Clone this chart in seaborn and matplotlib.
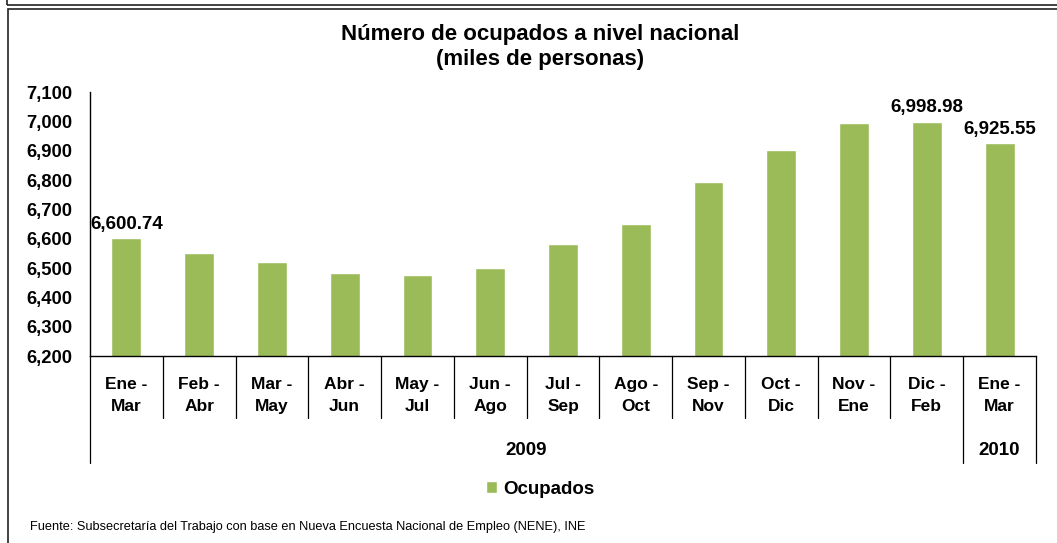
import seaborn as sns
import matplotlib.pyplot as plt
import pandas as pd
from matplotlib.patches import Rectangle
from matplotlib.ticker import FuncFormatter

# datos (miles de personas)
periodos = ["Ene -\nMar", "Feb -\nAbr", "Mar -\nMay", "Abr -\nJun", "May -\nJul",
            "Jun -\nAgo", "Jul -\nSep", "Ago -\nOct", "Sep -\nNov", "Oct -\nDic",
            "Nov -\nEne", "Dic -\nFeb", "Ene -\nMar"]
ocupados = [6600.74, 6550, 6521, 6484, 6475, 6500, 6582, 6650, 6793, 6903,
            6995, 6998.98, 6925.55]
anios = ["2009", "2010"]
n_2009 = 12
etiquetas_visibles = [0, 11, 12]

df = pd.DataFrame({"pos": range(len(ocupados)), "Ocupados": ocupados})

sns.set_style("white")
plt.rcParams["font.family"] = ["Liberation Sans", "DejaVu Sans"]
plt.rcParams["text.color"] = "black"
plt.rcParams["xtick.color"] = "black"
plt.rcParams["ytick.color"] = "black"

verde = "#9BBB59"
W, H = 1057, 543
fig = plt.figure(figsize=(W / 100, H / 100), dpi=100)

# marcos del fondo
fig.patches.append(Rectangle((7 / W, 1 - 5 / H), 2, 1, transform=fig.transFigure,
                             fill=False, edgecolor="#222222", linewidth=1.2))
fig.patches.append(Rectangle((8 / W, -1), 2, 2 - 9 / H, transform=fig.transFigure,
                             fill=False, edgecolor="#222222", linewidth=1.2))

ax = fig.add_axes([90 / W, 1 - 356 / H, (1036 - 90) / W, (356 - 92) / H])
sns.barplot(data=df, x="pos", y="Ocupados", color=verde, width=0.41,
            saturation=1, ax=ax, label="Ocupados")

ax.set_ylim(6200, 7100)
ax.set_yticks(range(6200, 7101, 100))
ax.yaxis.set_major_formatter(FuncFormatter(lambda v, p: f"{v:,.0f}"))
ax.set_xlim(-0.5, len(ocupados) - 0.5)
ax.set_xticks(range(len(periodos)))
ax.set_xticklabels(periodos)
ax.tick_params(axis="x", length=0, pad=15, labelsize=12.5)
ax.tick_params(axis="y", length=0, pad=12.5, labelsize=13.3)
for t in ax.get_xticklabels():
    t.set_fontweight("bold")
    t.set_linespacing(1.6)
for t in ax.get_yticklabels():
    t.set_fontweight("bold")
ax.set_xlabel("")
ax.set_ylabel("")

for s in ["top", "right"]:
    ax.spines[s].set_visible(False)
for s in ["left", "bottom"]:
    ax.spines[s].set_color("black")
    ax.spines[s].set_linewidth(1)

# etiquetas de datos
for i in etiquetas_visibles:
    ax.annotate(f"{ocupados[i]:,.2f}", (i, ocupados[i]), xytext=(0, 4),
                textcoords="offset points", ha="center", va="bottom",
                fontsize=13.5, fontweight="bold")

# eje de categorias en dos niveles
trans = ax.get_xaxis_transform()
for k in range(len(ocupados) + 1):
    x = k - 0.5
    largo = k in (0, n_2009, len(ocupados))
    y0 = -0.405 if largo else -0.235
    ax.plot([x, x], [0, y0], color="black", lw=0.9, transform=trans, clip_on=False)
ax.text((n_2009 - 1) / 2, -0.357, anios[0], transform=trans, ha="center",
        va="center", fontsize=13.5, fontweight="bold")
ax.text(n_2009, -0.357, anios[1], transform=trans, ha="center",
        va="center", fontsize=13.5, fontweight="bold")

# titulo
fig.text(540 / W, 1 - 34 / H, "Número de ocupados a nivel nacional", ha="center",
         va="center", fontsize=16, fontweight="bold")
fig.text(540 / W, 1 - 59 / H, "(miles de personas)", ha="center",
         va="center", fontsize=16, fontweight="bold")

# leyenda
leg = ax.legend(loc="center", bbox_to_anchor=(540 / W, 1 - 489 / H),
                bbox_transform=fig.transFigure, frameon=False,
                handlelength=0.6, handleheight=0.6, handletextpad=0.3,
                prop={"weight": "bold", "size": 13.5})

fig.text(30 / W, 1 - 527 / H,
         "Fuente: Subsecretaría del Trabajo con base en Nueva Encuesta Nacional de Empleo (NENE), INE",
         ha="left", va="center", fontsize=9.2)

fig.savefig("out.png", dpi=100)
